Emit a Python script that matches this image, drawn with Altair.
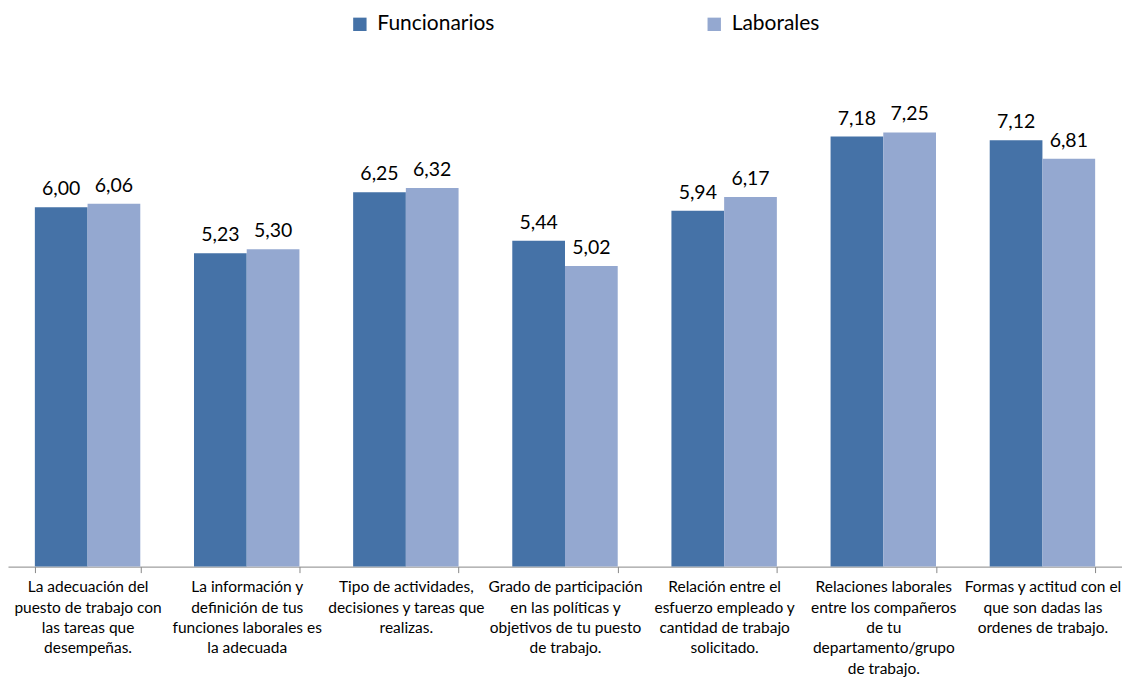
import altair as alt
import pandas as pd

categories = [
    "La adecuación del\npuesto de trabajo con\nlas tareas que\ndesempeñas.",
    "La información y\ndefinición de tus\nfunciones laborales es\nla adecuada",
    "Tipo de actividades,\ndecisiones y tareas que\nrealizas.",
    "Grado de participación\nen las políticas y\nobjetivos de tu puesto\nde trabajo.",
    "Relación entre el\nesfuerzo empleado y\ncantidad de trabajo\nsolicitado.",
    "Relaciones laborales\nentre los compañeros\nde tu\ndepartamento/grupo\nde trabajo.",
    "Formas y actitud con el\nque son dadas las\nordenes de trabajo.",
]
series = ["Funcionarios", "Laborales"]
funcionarios = [6.00, 5.23, 6.25, 5.44, 5.94, 7.18, 7.12]
laborales = [6.06, 5.30, 6.32, 5.02, 6.17, 7.25, 6.81]
colors = ["#4572A7", "#94A8D0"]

rows = []
for c, f, l in zip(categories, funcionarios, laborales):
    rows.append({"cat": c, "serie": series[0], "valor": f})
    rows.append({"cat": c, "serie": series[1], "valor": l})
df = pd.DataFrame(rows)

FONT = "Lato"

x = alt.X(
    "cat:N",
    sort=categories,
    title=None,
    scale=alt.Scale(paddingInner=0.3375, paddingOuter=0.16875),
    axis=alt.Axis(
        labelExpr="split(datum.label, '\\n')",
        labelAngle=0,
        labelFontSize=15.5,
        labelFont=FONT,
        labelColor="#000000",
        labelLineHeight=20.5,
        labelPadding=7,
        labelLimit=200,
        tickBand="extent",
        tickSize=6,
        tickColor="#888888",
        domainColor="#888888",
        grid=False,
    ),
)
xo = alt.XOffset("serie:N", sort=series, scale=alt.Scale(paddingInner=0, paddingOuter=0))
y = alt.Y("valor:Q", scale=alt.Scale(domain=[0, 8], nice=False), axis=None)

bars = alt.Chart(df).mark_bar().encode(
    x=x,
    xOffset=xo,
    y=y,
    color=alt.Color(
        "serie:N",
        sort=series,
        scale=alt.Scale(domain=series, range=colors),
        legend=alt.Legend(
            title=None,
            orient="none",
            direction="horizontal",
            legendX=342,
            legendY=-74,
            symbolType="square",
            symbolSize=180,
            symbolStrokeWidth=0,
            labelFontSize=21,
            labelFont=FONT,
            labelColor="#000000",
            columnPadding=209,
            labelOffset=7,
        ),
    ),
)

labels = alt.Chart(df).transform_calculate(
    etiqueta="replace(format(datum.valor, '.2f'), '.', ',')"
).mark_text(baseline="bottom", dy=-8, fontSize=19.5, font=FONT, color="#000000").encode(
    x=x,
    xOffset=xo,
    y=y,
    text="etiqueta:N",
)

chart = (
    alt.layer(bars, labels)
    .properties(
        width=1116,
        height=480,
        autosize=alt.AutoSizeParams(type="none"),
        padding={"left": 0, "top": 79, "right": 0, "bottom": 125},
    )
    .configure_view(stroke=None)
)

chart.save("out.html", embed_options={"renderer": "svg", "actions": False})
